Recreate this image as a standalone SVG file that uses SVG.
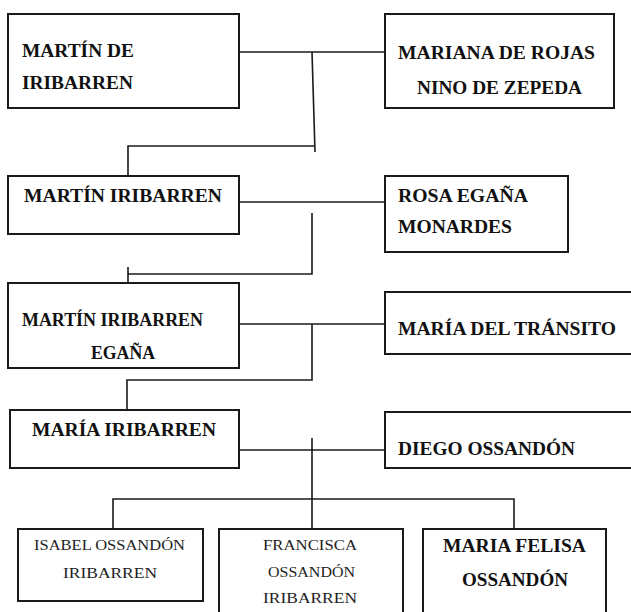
<svg xmlns="http://www.w3.org/2000/svg" width="631" height="612" viewBox="0 0 631 612">
<style>
.box{fill:#fff;stroke:#1a1a1a;stroke-width:2}
.b{font-family:"Liberation Serif","DejaVu Serif",serif;font-weight:bold;font-size:19px;fill:#111}
.r{font-family:"Liberation Serif","DejaVu Serif",serif;font-size:15px;fill:#222}
.c{fill:none;stroke:#1a1a1a;stroke-width:1.6}
</style>
<rect width="631" height="612" fill="#fff"/>
<g id="connectors">
<path class="c" d="M239,52 H385 M312,52 L315,152 M314,146 H128 V176"/>
<path class="c" d="M239,202 H385 M312,213 V274 H128 M128,267 V298"/>
<path class="c" d="M239,324 H385 M312,324 V380 H127 V410"/>
<path class="c" d="M239,450 H385 M312,438 V529 M113,529 V499 H514 V529"/>
</g>
<g id="n1"><rect class="box" x="8" y="14" width="231" height="94"/>
<text class="b" x="22" y="57" textLength="112" lengthAdjust="spacingAndGlyphs">MARTÍN DE</text>
<text class="b" x="22" y="89" textLength="111" lengthAdjust="spacingAndGlyphs">IRIBARREN</text></g>
<g id="n2"><rect class="box" x="385" y="14" width="229" height="94"/>
<text class="b" x="398" y="59" textLength="197" lengthAdjust="spacingAndGlyphs">MARIANA DE ROJAS</text>
<text class="b" x="417" y="94" textLength="165" lengthAdjust="spacingAndGlyphs">NINO DE ZEPEDA</text></g>
<g id="n3"><rect class="box" x="8" y="176" width="231" height="58"/>
<text class="b" x="24" y="202" textLength="198" lengthAdjust="spacingAndGlyphs">MARTÍN IRIBARREN</text></g>
<g id="n4"><rect class="box" x="385" y="176" width="183" height="76"/>
<text class="b" x="398" y="202" textLength="130" lengthAdjust="spacingAndGlyphs">ROSA EGAÑA</text>
<text class="b" x="398" y="233" textLength="114" lengthAdjust="spacingAndGlyphs">MONARDES</text></g>
<g id="n5"><rect class="box" x="8" y="283" width="231" height="85"/>
<text class="b" x="22" y="326" textLength="181" lengthAdjust="spacingAndGlyphs">MARTÍN IRIBARREN</text>
<text class="b" x="91" y="359" textLength="64" lengthAdjust="spacingAndGlyphs">EGAÑA</text></g>
<g id="n6"><rect class="box" x="385" y="292" width="260" height="62"/>
<text class="b" x="398" y="335" textLength="218" lengthAdjust="spacingAndGlyphs">MARÍA DEL TRÁNSITO</text></g>
<g id="n7"><rect class="box" x="10" y="410" width="229" height="58"/>
<text class="b" x="32" y="436" textLength="184" lengthAdjust="spacingAndGlyphs">MARÍA IRIBARREN</text></g>
<g id="n8"><rect class="box" x="385" y="412" width="260" height="56"/>
<text class="b" x="398" y="455" textLength="177" lengthAdjust="spacingAndGlyphs">DIEGO OSSANDÓN</text></g>
<g id="n9"><rect class="box" x="18" y="529" width="185" height="72"/>
<text class="r" x="34" y="550" textLength="151" lengthAdjust="spacingAndGlyphs">ISABEL OSSANDÓN</text>
<text class="r" x="63" y="578" textLength="94" lengthAdjust="spacingAndGlyphs">IRIBARREN</text></g>
<g id="n10"><rect class="box" x="219" y="529" width="184" height="100"/>
<text class="r" x="263" y="550" textLength="94" lengthAdjust="spacingAndGlyphs">FRANCISCA</text>
<text class="r" x="268" y="577" textLength="87" lengthAdjust="spacingAndGlyphs">OSSANDÓN</text>
<text class="r" x="263" y="603" textLength="94" lengthAdjust="spacingAndGlyphs">IRIBARREN</text></g>
<g id="n11"><rect class="box" x="423" y="529" width="183" height="100"/>
<text class="b" x="443" y="552" textLength="143" lengthAdjust="spacingAndGlyphs">MARIA FELISA</text>
<text class="b" x="462" y="586" textLength="106" lengthAdjust="spacingAndGlyphs">OSSANDÓN</text></g>
</svg>
